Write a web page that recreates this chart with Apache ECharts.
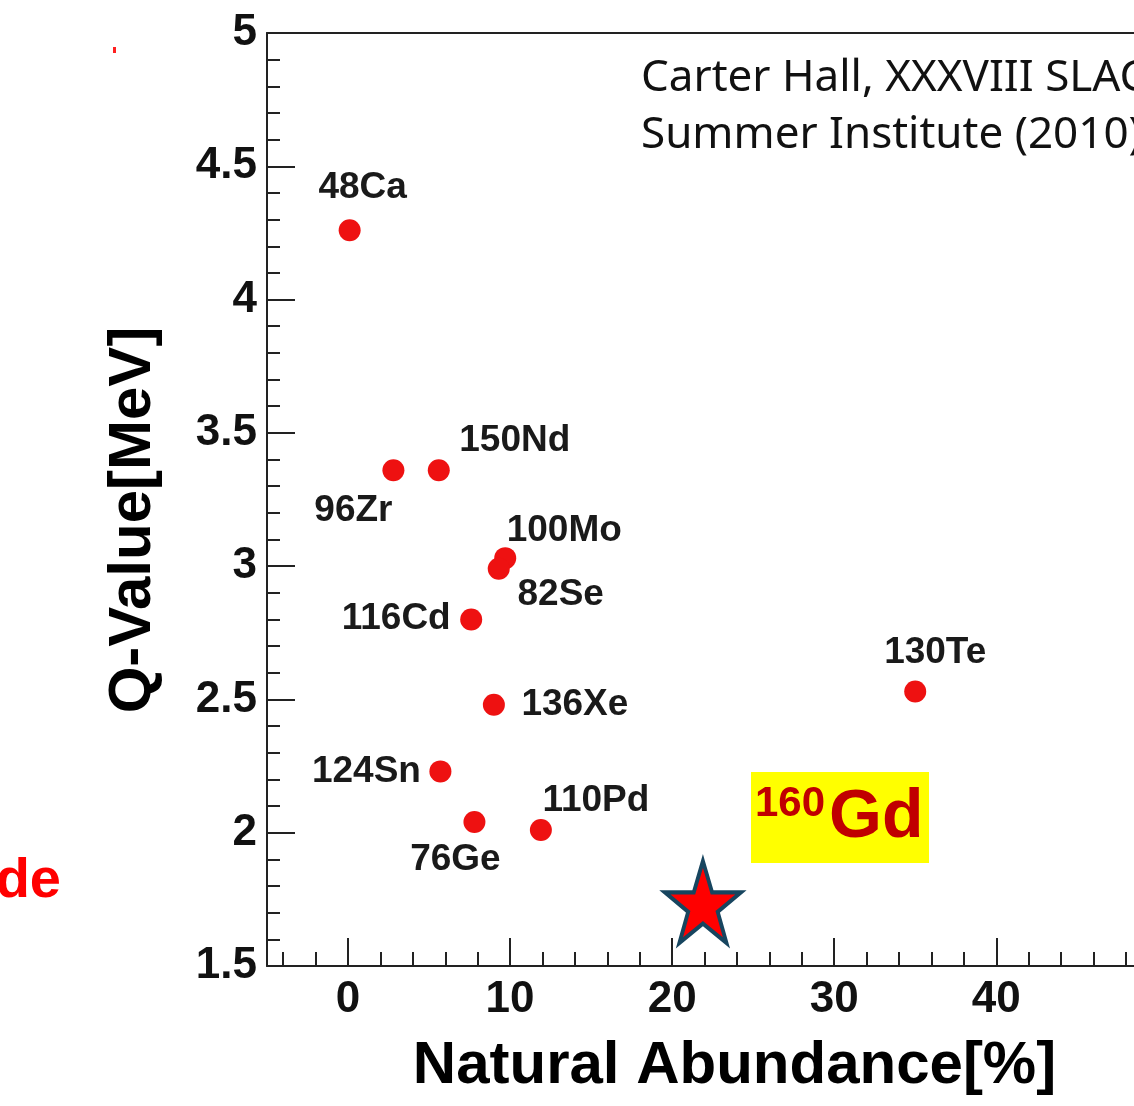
<!DOCTYPE html>
<html>
<head>
<meta charset="utf-8">
<script src="https://cdn.jsdelivr.net/npm/echarts@6/dist/echarts.min.js"></script>
<style>
  html, body { margin: 0; padding: 0; background: #fff; }
  #chart { width: 1134px; height: 1106px; }
</style>
</head>
<body>
<div id="chart"></div>
<script>
// isotopes
var isotopes = ['48Ca', '96Zr', '150Nd', '100Mo', '82Se', '116Cd', '136Xe', '130Te', '124Sn', '76Ge', '110Pd'];
var abundance = [0.1, 2.8, 5.6, 9.7, 9.3, 7.6, 9.0, 35.0, 5.7, 7.8, 11.9];
var qValue = [4.26, 3.36, 3.36, 3.03, 2.99, 2.80, 2.48, 2.53, 2.23, 2.04, 2.01];

// the added candidate (star)
var gdName = '160Gd';
var gdAbundance = [21.9];
var gdQ = [1.74];

var xMajorTicks = [0, 10, 20, 30, 40];
var xMinorTicks = [-4, -2, 2, 4, 6, 8, 12, 14, 16, 18, 22, 24, 26, 28, 32, 34, 36, 38, 42, 44, 46, 48];

// where each isotope name sits relative to its dot (px)
var labelOffset = {
  '48Ca': [13, -42], '96Zr': [-40, 41], '150Nd': [76, -29], '100Mo': [59, -27],
  '82Se': [62, 26], '116Cd': [-75, -1], '136Xe': [81, 0], '130Te': [20, -39],
  '124Sn': [-74, 0], '76Ge': [-19, 38], '110Pd': [55, -29]
};

var axisColor = '#222';
var font = '"Liberation Sans", Arial, sans-serif';

var dots = isotopes.map(function (name, i) {
  return {
    name: name,
    value: [abundance[i], qValue[i]],
    label: { offset: labelOffset[name] }
  };
});

var starPath = 'path://M50,0 L61.8,35.1 L98.9,35.1 L69,56.7 L80.3,91.6 L50,70 L19.7,91.6 L31,56.7 L1.1,35.1 L38.2,35.1 Z';

var myChart = echarts.init(document.getElementById('chart'), null, { renderer: 'canvas' });

// the plot runs past the right edge of the picture, so the visible range stops near 48.5
var xMin = -5, xMax = 48.5;

var option = {
  backgroundColor: '#fff',
  animation: false,
  grid: { left: 267, top: 33, right: 0, bottom: 140, containLabel: false },
  xAxis: [
    {
      type: 'value', min: xMin, max: xMax, position: 'bottom',
      axisLine: { show: true, onZero: false, lineStyle: { color: axisColor, width: 2 } },
      axisTick: { show: true, inside: true, length: 28, customValues: xMajorTicks, lineStyle: { color: axisColor, width: 2 } },
      axisLabel: {
        customValues: xMajorTicks, margin: 12, color: '#111',
        fontFamily: font, fontWeight: 'bold', fontSize: 44
      },
      splitLine: { show: false },
      name: 'Natural Abundance[%]', nameLocation: 'middle', nameGap: 70,
      nameTextStyle: { fontFamily: font, fontWeight: 'bold', fontSize: 60, color: '#000', padding: [0, 0, 0, 68] }
    },
    {
      type: 'value', min: xMin, max: xMax, position: 'bottom',
      axisLine: { show: false },
      axisTick: { show: true, inside: true, length: 14, customValues: xMinorTicks, lineStyle: { color: axisColor, width: 2 } },
      axisLabel: { show: false },
      splitLine: { show: false }
    },
    {
      type: 'value', min: xMin, max: xMax, position: 'top',
      axisLine: { show: true, onZero: false, lineStyle: { color: axisColor, width: 2 } },
      axisTick: { show: false },
      axisLabel: { show: false },
      splitLine: { show: false }
    }
  ],
  yAxis: {
    type: 'value', min: 1.5, max: 5, interval: 0.5,
    axisLine: { show: true, onZero: false, lineStyle: { color: axisColor, width: 2 } },
    axisTick: { show: true, inside: true, length: 28, lineStyle: { color: axisColor, width: 2 } },
    minorTick: { show: true, splitNumber: 5, length: 13, lineStyle: { color: axisColor, width: 2 } },
    axisLabel: { margin: 10, color: '#111', fontFamily: font, fontWeight: 'bold', fontSize: 44 },
    splitLine: { show: false }
  },
  series: [
    {
      name: 'isotopes', type: 'scatter', xAxisIndex: 0,
      symbol: 'circle', symbolSize: 22,
      itemStyle: { color: '#ee1111', opacity: 1 },
      label: {
        show: true, position: 'inside', formatter: '{b}',
        color: '#1a1a1a', fontFamily: font, fontWeight: 'bold', fontSize: 37
      },
      data: dots
    },
    {
      name: gdName, type: 'scatter', xAxisIndex: 0,
      symbol: starPath, symbolSize: [76, 82],
      itemStyle: { color: '#ff0000', borderColor: '#17455f', borderWidth: 4, opacity: 1 },
      data: gdAbundance.map(function (x, i) { return [x, gdQ[i]]; })
    }
  ],
  graphic: [
    {
      // y axis title
      type: 'text', x: 133, y: 520, rotation: Math.PI / 2,
      style: { text: 'Q-Value[MeV]', font: 'bold 60px "Liberation Sans", Arial', fill: '#000', align: 'center', verticalAlign: 'middle' }
    },
    {
      type: 'text', left: 641, top: 50,
      style: {
        text: 'Carter Hall, XXXVIII SLAC\nSummer Institute (2010)',
        font: '44px "Noto Sans", sans-serif', fill: '#111', lineHeight: 57
      }
    },
    {
      type: 'group', left: 751, top: 772,
      children: [
        { type: 'rect', shape: { x: 0, y: 0, width: 178, height: 91 }, style: { fill: '#ffff00' } },
        {
          type: 'text', x: 4, y: 32,
          style: { text: '160', font: 'bold 42px "Liberation Sans", Arial', fill: '#c00000', verticalAlign: 'middle' }
        },
        {
          type: 'text', x: 78, y: 46,
          style: { text: 'Gd', font: 'bold 68px "Liberation Sans", Arial', fill: '#c00000', verticalAlign: 'middle' }
        }
      ]
    },
    {
      type: 'text', x: 61, y: 882,
      style: { text: 'de', font: 'bold 56px "Liberation Sans", Arial', fill: '#ff0000', align: 'right', verticalAlign: 'middle' }
    },
    {
      // small clipped red fragment near the top left
      type: 'rect', shape: { x: 113, y: 47, width: 3, height: 6 }, style: { fill: '#ff2020' }
    }
  ]
};

myChart.setOption(option);
</script>
</body>
</html>
